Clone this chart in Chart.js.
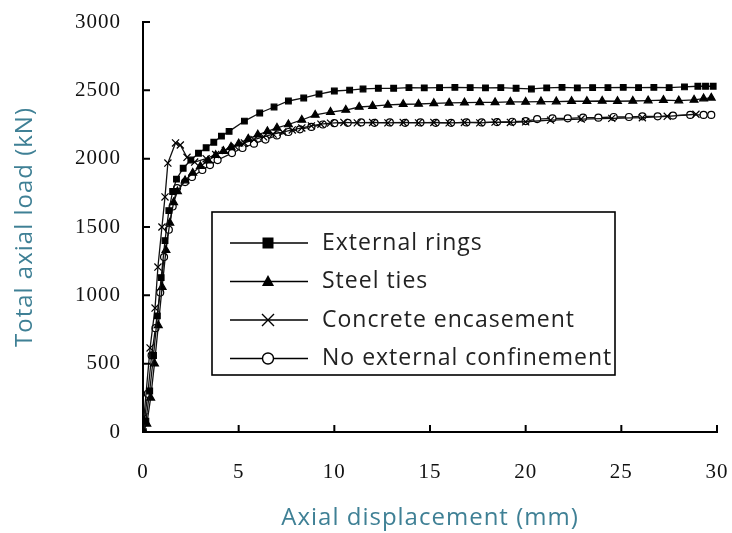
<!DOCTYPE html>
<html>
<head>
<meta charset="utf-8">
<script src="https://cdn.jsdelivr.net/npm/chart.js@4/dist/chart.umd.min.js"></script>
<style>
  html, body { margin: 0; padding: 0; background: #fff; }
  #wrap { width: 732px; height: 533px; }
</style>
</head>
<body>
<div id="wrap"><canvas id="chartLoad" width="732" height="533"></canvas></div>
<script>
// Series data (x = axial displacement mm, y = load kN)
const ringsX = [0, 0.15, 0.35, 0.55, 0.75, 0.95, 1.15, 1.35, 1.55, 1.75, 2.1, 2.5, 2.9, 3.3, 3.7, 4.1, 4.5, 5.3, 6.1, 6.85, 7.6, 8.4, 9.2, 10.0, 10.8, 11.5, 12.3, 13.1, 13.9, 14.7, 15.5, 16.3, 17.1, 17.9, 18.7, 19.5, 20.3, 21.1, 21.9, 22.7, 23.5, 24.3, 25.1, 25.9, 26.7, 27.5, 28.3, 29.0, 29.4, 29.8];
const ringsY = [0, 80, 300, 560, 850, 1130, 1400, 1620, 1760, 1850, 1930, 1990, 2040, 2080, 2120, 2165, 2200, 2275, 2334, 2378, 2422, 2444, 2473, 2495, 2502, 2510, 2515, 2515, 2520, 2518, 2520, 2522, 2520, 2518, 2520, 2515, 2510, 2518, 2522, 2518, 2520, 2520, 2522, 2520, 2522, 2520, 2525, 2530, 2530, 2530];

const tiesX = [0, 0.2, 0.4, 0.6, 0.8, 1.0, 1.2, 1.4, 1.6, 1.8, 2.2, 2.6, 3.0, 3.4, 3.8, 4.2, 4.6, 5.0, 5.5, 6.0, 6.5, 7.0, 7.6, 8.3, 9.0, 9.8, 10.6, 11.3, 12.0, 12.8, 13.6, 14.4, 15.2, 16.0, 16.8, 17.6, 18.4, 19.2, 20.0, 20.8, 21.6, 22.4, 23.2, 24.0, 24.8, 25.6, 26.4, 27.2, 28.0, 28.8, 29.3, 29.7];
const tiesY = [0, 60, 250, 500, 780, 1060, 1330, 1530, 1680, 1760, 1840, 1895, 1945, 1985, 2025, 2055, 2085, 2110, 2145, 2175, 2200, 2225, 2250, 2283, 2320, 2341, 2356, 2378, 2385, 2393, 2398, 2400, 2405, 2408, 2410, 2412, 2412, 2415, 2415, 2418, 2418, 2420, 2420, 2422, 2420, 2422, 2425, 2428, 2425, 2430, 2440, 2445];

const encaseX = [0, 0.05, 0.37, 0.63, 0.78, 0.99, 1.15, 1.3, 1.7, 1.95, 2.3, 2.7, 3.3, 3.8, 4.3, 4.8, 5.3, 5.8, 6.3, 6.8, 7.3, 7.8, 8.3, 8.8, 9.3, 9.8, 10.5, 11.2, 12.0, 12.8, 13.6, 14.4, 15.2, 16.0, 16.8, 17.6, 18.4, 19.2, 20.0, 21.3, 22.9, 24.5, 26.1, 27.4, 28.9];
const encaseY = [0, 110, 615, 907, 1207, 1500, 1720, 1968, 2115, 2100, 2010, 1975, 2000, 2030, 2060, 2090, 2115, 2140, 2160, 2180, 2195, 2210, 2225, 2240, 2252, 2260, 2265, 2262, 2265, 2262, 2265, 2262, 2265, 2262, 2265, 2262, 2268, 2265, 2270, 2282, 2290, 2295, 2300, 2310, 2325];

const noConfX = [0, 0.25, 0.45, 0.65, 0.9, 1.1, 1.35, 1.55, 1.78, 2.2, 2.56, 3.1, 3.5, 3.9, 4.65, 5.2, 5.8, 6.4, 7.0, 7.6, 8.2, 8.8, 9.4, 10.0, 10.7, 11.4, 12.1, 12.9, 13.7, 14.5, 15.3, 16.1, 16.9, 17.7, 18.5, 19.3, 20.0, 20.6, 21.4, 22.2, 23.0, 23.8, 24.6, 25.4, 26.1, 26.9, 27.7, 28.6, 29.3, 29.7];
const noConfY = [0, 280, 560, 760, 1020, 1280, 1480, 1650, 1785, 1829, 1866, 1917, 1953, 1990, 2041, 2078, 2110, 2140, 2170, 2195, 2215, 2232, 2250, 2260, 2262, 2265, 2262, 2265, 2262, 2265, 2262, 2262, 2265, 2265, 2268, 2270, 2275, 2290, 2295, 2295, 2300, 2300, 2305, 2305, 2310, 2310, 2315, 2320, 2320, 2320];

const seriesLabels = ['External rings', 'Steel ties', 'Concrete encasement', 'No external confinement'];
const xTicks = [0, 5, 10, 15, 20, 25, 30];
const yTicks = [0, 500, 1000, 1500, 2000, 2500, 3000];

const titleColor = '#3f8095';

function toPoints(xs, ys) {
    return xs.map((x, i) => ({ x: x, y: ys[i] }));
}

// marker styles per series (also used by the legend box)
const markers = [
    { style: 'rect', radius: 4, fill: '#000' },
    { style: 'triangle', radius: 4.5, fill: '#000' },
    { style: 'crossRot', radius: 5, fill: '#000' },
    { style: 'circle', radius: 3.5, fill: '#fff' }
];

const allData = [
    toPoints(ringsX, ringsY),
    toPoints(tiesX, tiesY),
    toPoints(encaseX, encaseY),
    toPoints(noConfX, noConfY)
];

const datasets = allData.map((pts, i) => ({
    label: seriesLabels[i],
    data: pts,
    showLine: true,
    borderColor: '#111',
    borderWidth: 1.3,
    pointStyle: markers[i].style,
    pointRadius: markers[i].radius,
    pointBackgroundColor: markers[i].fill,
    pointBorderColor: '#000',
    pointBorderWidth: 1.2,
    tension: 0
}));

// the original text is set a little loose
const spacing = {
    id: 'spacing',
    beforeUpdate(chart) { chart.ctx.letterSpacing = '1px'; },
    beforeDraw(chart) { chart.ctx.letterSpacing = '1px'; }
};

// Ticks pointing into the plot, like the original figure
const inwardTicks = {
    id: 'inwardTicks',
    afterDraw(chart) {
        const { ctx, chartArea, scales } = chart;
        ctx.save();
        ctx.strokeStyle = '#000';
        ctx.lineWidth = 2;
        ctx.beginPath();
        scales.x.ticks.forEach(t => {
            const px = scales.x.getPixelForValue(t.value);
            ctx.moveTo(px, chartArea.bottom);
            ctx.lineTo(px, chartArea.bottom - 7);
        });
        scales.y.ticks.forEach(t => {
            const py = scales.y.getPixelForValue(t.value);
            ctx.moveTo(chartArea.left, py);
            ctx.lineTo(chartArea.left + 7, py);
        });
        ctx.stroke();
        ctx.restore();
    }
};

function drawMarker(ctx, m, x, y, r) {
    ctx.beginPath();
    if (m.style === 'rect') {
        ctx.rect(x - r, y - r, 2 * r, 2 * r);
        ctx.fill();
    } else if (m.style === 'triangle') {
        ctx.moveTo(x, y - r * 1.2);
        ctx.lineTo(x + r * 1.1, y + r * 0.8);
        ctx.lineTo(x - r * 1.1, y + r * 0.8);
        ctx.closePath();
        ctx.fill();
    } else if (m.style === 'crossRot') {
        ctx.moveTo(x - r, y - r); ctx.lineTo(x + r, y + r);
        ctx.moveTo(x + r, y - r); ctx.lineTo(x - r, y + r);
        ctx.stroke();
    } else {
        ctx.arc(x, y, r, 0, Math.PI * 2);
        ctx.fill();
        ctx.stroke();
    }
}

// Legend box inside the plot
const boxLegend = {
    id: 'boxLegend',
    afterDraw(chart) {
        const ctx = chart.ctx;
        const bx = 212, by = 212, bw = 403, bh = 163;
        ctx.save();
        ctx.fillStyle = '#fff';
        ctx.fillRect(bx, by, bw, bh);
        ctx.strokeStyle = '#000';
        ctx.lineWidth = 1.6;
        ctx.strokeRect(bx, by, bw, bh);
        ctx.font = '23px "Open Sans"';
        ctx.letterSpacing = '1px';
        ctx.textBaseline = 'middle';
        seriesLabels.forEach((lab, i) => {
            const y = 243 + i * 38.5;
            ctx.strokeStyle = '#000';
            ctx.lineWidth = 1.6;
            ctx.beginPath();
            ctx.moveTo(230, y);
            ctx.lineTo(308, y);
            ctx.stroke();
            ctx.fillStyle = markers[i].fill;
            ctx.lineWidth = 1.4;
            drawMarker(ctx, markers[i], 268, y, i === 2 ? 6 : 5.5);
            ctx.fillStyle = '#222';
            ctx.fillText(lab, 322, y);
        });
        ctx.restore();
    }
};

new Chart(document.getElementById('chartLoad'), {
    type: 'scatter',
    data: { datasets: datasets },
    options: {
        responsive: false,
        animation: false,
        layout: { padding: { top: 22, right: 15, left: 0, bottom: 0 } },
        plugins: {
            legend: { display: false },
            tooltip: { enabled: false }
        },
        scales: {
            x: {
                type: 'linear',
                min: 0, max: 30,
                afterBuildTicks: s => { s.ticks = xTicks.map(v => ({ value: v })); },
                afterFit: s => { s.height = 101; s.paddingLeft = 0; s.paddingRight = 0; },
                grid: { display: false, drawTicks: false },
                border: { display: true, color: '#000', width: 2 },
                ticks: { padding: 28, color: '#111', font: { family: '"Liberation Serif", serif', size: 21 } },
                title: {
                    display: true,
                    text: 'Axial displacement (mm)',
                    color: titleColor,
                    font: { family: '"Open Sans", sans-serif', size: 24 },
                    padding: { top: 0, bottom: 0 }
                }
            },
            y: {
                type: 'linear',
                min: 0, max: 3000,
                afterBuildTicks: s => { s.ticks = yTicks.map(v => ({ value: v })); },
                afterFit: s => { s.width = 143; s.paddingTop = 0; s.paddingBottom = 0; },
                grid: { display: false, drawTicks: false },
                border: { display: true, color: '#000', width: 2 },
                ticks: {
                    padding: 22, color: '#111',
                    font: { family: '"Liberation Serif", serif', size: 21 },
                    callback: v => String(v)
                },
                title: {
                    display: true,
                    text: 'Total axial load (kN)',
                    color: titleColor,
                    font: { family: '"Open Sans", sans-serif', size: 24 },
                    padding: { top: 11, bottom: 0 }
                }
            }
        }
    },
    plugins: [spacing, inwardTicks, boxLegend]
});
</script>
</body>
</html>
